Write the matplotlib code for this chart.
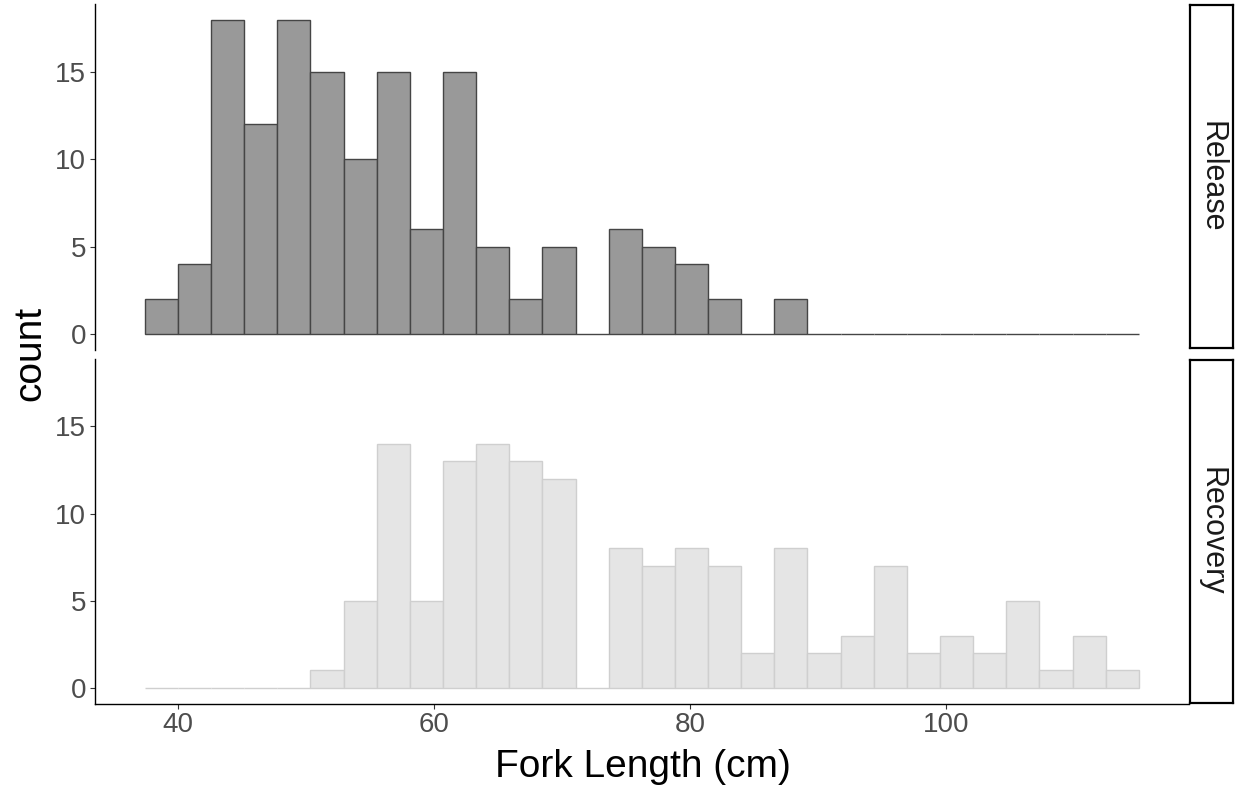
import numpy as np
import matplotlib
matplotlib.use("Agg")
import matplotlib.pyplot as plt

plt.rcParams["font.family"] = ["Liberation Sans", "DejaVu Sans"]

# Histogram bins (30 bins of fork length, cm)
bin_edges = np.linspace(37.43, 115.04, 31)

# Counts per bin for each facet
release_counts = [2, 4, 18, 12, 18, 15, 10, 15, 6, 15,
                  5, 2, 5, 0, 6, 5, 4, 2, 0, 2,
                  0, 0, 0, 0, 0, 0, 0, 0, 0, 0]
recovery_counts = [0, 0, 0, 0, 0, 1, 5, 14, 5, 13,
                   14, 13, 12, 0, 8, 7, 8, 7, 2, 8,
                   2, 3, 7, 2, 3, 2, 5, 1, 3, 1]

facet_labels = ["Release", "Recovery"]
x_ticks = [40, 60, 80, 100]
y_ticks = [0, 5, 10, 15]
x_title = "Fork Length (cm)"
y_title = "count"

W, H = 1235, 792
fig = plt.figure(figsize=(W / 100, H / 100), dpi=100)


def rect(left, top, right, bottom):
    return [left / W, 1 - bottom / H, (right - left) / W, (bottom - top) / H]


ax_top = fig.add_axes(rect(95, 4, 1188.6, 349.7))
ax_bot = fig.add_axes(rect(95, 358.5, 1188.6, 703.5))

widths = np.diff(bin_edges)
styles = [
    dict(color="#999999", edgecolor="#454545", linewidth=1.0),
    dict(color="#E5E5E5", edgecolor="#CFCFCF", linewidth=1.0),
]

for ax, counts, st in zip((ax_top, ax_bot), (release_counts, recovery_counts), styles):
    ax.bar(bin_edges[:-1], counts, width=widths, align="edge", **st)
    ax.set_xlim(33.55, 118.92)
    ax.set_ylim(-0.9, 18.9)
    ax.set_yticks(y_ticks)
    ax.set_yticklabels([str(v) for v in y_ticks])
    ax.spines["top"].set_visible(False)
    ax.spines["right"].set_visible(False)
    ax.spines["left"].set_color("black")
    ax.spines["left"].set_linewidth(1.0)
    ax.spines["bottom"].set_color("black")
    ax.spines["bottom"].set_linewidth(1.0)
    ax.tick_params(axis="y", length=3.8, width=0.8, color="#333333",
                   labelsize=20, labelcolor="#4D4D4D", pad=2.5)
    ax.set_facecolor("white")

ax_top.spines["bottom"].set_visible(False)
ax_top.set_xticks([])

ax_bot.set_xticks(x_ticks)
ax_bot.set_xticklabels([str(v) for v in x_ticks])
ax_bot.tick_params(axis="x", length=3.8, width=0.8, color="#333333",
                   labelsize=20, labelcolor="#4D4D4D", pad=2.5)

# Facet strips on the right
for (top, bottom), label in zip([(5, 348), (360, 703)], facet_labels):
    sax = fig.add_axes(rect(1190, top, 1233, bottom))
    sax.set_xticks([])
    sax.set_yticks([])
    for sp in sax.spines.values():
        sp.set_color("black")
        sp.set_linewidth(1.6)
    sax.text(0.5, 0.5, label, rotation=-90, ha="center", va="center",
             fontsize=22, color="#1A1A1A", transform=sax.transAxes)

fig.text(30 / W, 1 - 353 / H, y_title, rotation=90, ha="center", va="center",
         fontsize=28, color="black")
fig.text(642.5 / W, 1 - 767 / H, x_title, ha="center", va="center",
         fontsize=28, color="black")

fig.savefig("out.png", dpi=100, facecolor="white")
